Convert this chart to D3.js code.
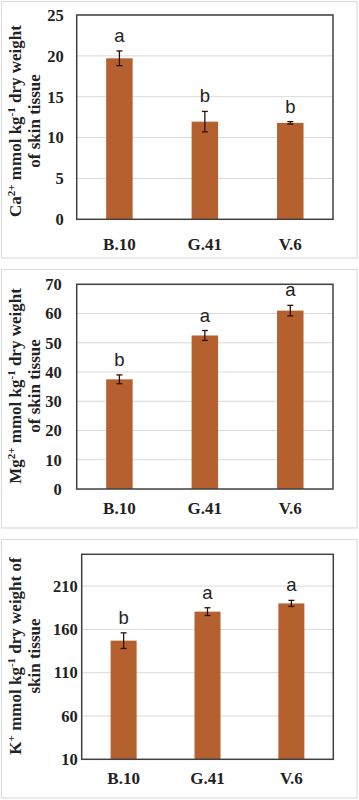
<!DOCTYPE html>
<html><head><meta charset="utf-8">
<script src="https://cdn.jsdelivr.net/npm/d3@7"></script>
<style>html,body{margin:0;padding:0;background:#fff;}svg{display:block;}</style>
</head><body>
<svg id="c" width="359" height="800"></svg>
<script>
const categories = ["B.10", "G.41", "V.6"];
const caValues = [19.7, 11.95, 11.8];
const caErrors = [0.9, 1.25, 0.15];
const caLetters = ["a", "b", "b"];
const caTicks = [0, 5, 10, 15, 20, 25];
const mgValues = [37.5, 52.5, 61.0];
const mgErrors = [1.5, 1.7, 1.8];
const mgLetters = ["b", "a", "a"];
const mgTicks = [0, 10, 20, 30, 40, 50, 60, 70];
const kValues = [147, 180.5, 190];
const kErrors = [9, 4.5, 3.5];
const kLetters = ["b", "a", "a"];
const kTicks = [10, 60, 110, 160, 210];

const svg = d3.select("#c");
const BAR = "#b5612f";

function panel(o) {
  const g = svg.append("g");
  g.append("rect").attr("x", 1.5).attr("y", o.oy0).attr("width", 355.5).attr("height", o.oy1 - o.oy0)
    .attr("fill", "#fff").attr("stroke", "#dcdcdc").attr("stroke-width", 1.2);
  const x = d3.scaleBand().domain(categories).range([o.left, o.right]).paddingInner(0.69).paddingOuter(0.345);
  const y = d3.scaleLinear().domain(o.domain).range([o.bottom, o.top]);
  g.append("g").selectAll("line").data(o.ticks.filter(t => t !== o.domain[0])).join("line")
    .attr("x1", o.left).attr("x2", o.right).attr("y1", d => y(d)).attr("y2", d => y(d))
    .attr("stroke", "#d9d9d9").attr("stroke-width", 1);
  g.append("g").selectAll("rect").data(o.values).join("rect")
    .attr("x", (d, i) => x(categories[i])).attr("width", x.bandwidth())
    .attr("y", d => y(d)).attr("height", d => o.bottom - y(d)).attr("fill", BAR);
  const eg = g.append("g").attr("stroke", "#2b1208").attr("stroke-width", 1.3);
  o.values.forEach((v, i) => {
    const cx = x(categories[i]) + x.bandwidth() / 2;
    const e = o.errors[i];
    eg.append("line").attr("x1", cx).attr("x2", cx).attr("y1", y(v + e)).attr("y2", y(v - e));
    eg.append("line").attr("x1", cx - 3).attr("x2", cx + 3).attr("y1", y(v + e)).attr("y2", y(v + e));
    eg.append("line").attr("x1", cx - 3).attr("x2", cx + 3).attr("y1", y(v - e)).attr("y2", y(v - e));
    g.append("text").attr("x", cx).attr("y", y(v + e) - 9).attr("text-anchor", "middle")
      .attr("font-family", "Liberation Sans, Arial, sans-serif").attr("font-size", 18.5).attr("fill", "#222")
      .text(o.letters[i]);
  });
  g.append("rect").attr("x", o.left).attr("y", o.top).attr("width", o.right - o.left).attr("height", o.bottom - o.top)
    .attr("fill", "none").attr("stroke", "#404040").attr("stroke-width", 1.5);
  const ya = d3.axisLeft(y).tickValues(o.ticks).tickSize(0).tickPadding(o.tickPad);
  const yg = g.append("g").attr("transform", `translate(${o.left},0)`).call(ya);
  yg.select(".domain").remove();
  yg.selectAll("text").attr("font-family", "Liberation Serif, Times New Roman, serif").attr("font-weight", "bold")
    .attr("font-size", 16.5).attr("fill", "#222");
  const xa = d3.axisBottom(x).tickSize(0).tickPadding(o.xPad);
  const xg = g.append("g").attr("transform", `translate(0,${o.bottom})`).call(xa);
  xg.select(".domain").remove();
  xg.selectAll("text").attr("font-family", "Liberation Serif, Times New Roman, serif").attr("font-weight", "bold")
    .attr("font-size", 17).attr("fill", "#222");
  const t = g.append("text").attr("transform", `translate(0,${o.ly}) rotate(-90)`)
    .attr("text-anchor", "middle").attr("font-family", "Liberation Serif, Times New Roman, serif")
    .attr("font-weight", "bold").attr("font-size", 17).attr("fill", "#222");
  const l1 = t.append("tspan").attr("x", 0).attr("y", 21);
  o.line1.forEach(p => {
    const s = l1.append("tspan").text(p[0]);
    if (p[1] === "sup") s.attr("font-size", 11).attr("dy", -6.5);
    if (p[1] === "back") s.attr("dy", 6.5);
  });
  t.append("tspan").attr("x", 0).attr("y", 39.5).text(o.line2);
}

panel({oy0: 1.5, oy1: 258, left: 76.7, right: 333, top: 15, bottom: 219.3, domain: [0, 25], ticks: caTicks,
  values: caValues, errors: caErrors, letters: caLetters, tickPad: 13, xPad: 19, ly: 121,
  line1: [["Ca"], ["2+", "sup"], [" mmol kg", "back"], ["-1", "sup"], [" dry weight", "back"]], line2: "of skin tissue"});
panel({oy0: 269.5, oy1: 528, left: 76.7, right: 333, top: 284.3, bottom: 489, domain: [0, 70], ticks: mgTicks,
  values: mgValues, errors: mgErrors, letters: mgLetters, tickPad: 15, xPad: 13, ly: 386,
  line1: [["Mg"], ["2+", "sup"], [" mmol kg", "back"], ["-1", "sup"], [" dry weight", "back"]], line2: "of skin tissue"});
panel({oy0: 539.5, oy1: 798, left: 81.7, right: 333.3, top: 554.3, bottom: 759.3, domain: [10, 246.7], ticks: kTicks,
  values: kValues, errors: kErrors, letters: kLetters, tickPad: 4, xPad: 13, ly: 656,
  line1: [["K"], ["+", "sup"], [" mmol kg", "back"], ["-1", "sup"], [" dry weight of", "back"]], line2: "skin tissue"});
</script>
</body></html>
